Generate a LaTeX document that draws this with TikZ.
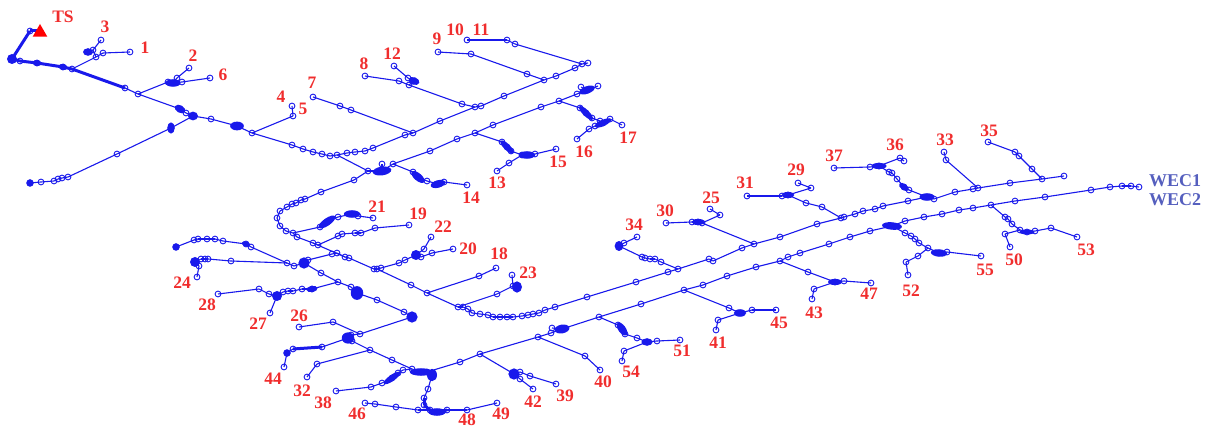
\documentclass[tikz,border=0pt]{standalone}
\usepackage{fontspec}
\setmainfont{Liberation Serif}
\usetikzlibrary{shapes.geometric, positioning}
\definecolor{busblue}{RGB}{25, 25, 235}
\definecolor{labred}{RGB}{240, 45, 45}
\definecolor{wecblue}{RGB}{85, 95, 190}
\tikzset{
  bus/.style={
    circle, draw=busblue, line width=0.9pt,
    inner sep=0pt, minimum size=5.8pt
  },
  hub/.style={
    ellipse, fill=busblue, inner sep=0pt, scale=1.25
  },
  source/.style={
    regular polygon, regular polygon sides=3, fill=red,
    inner sep=0pt, minimum size=17pt
  },
  wire/.style={draw=busblue, line width=1.1pt},
  trunk/.style={draw=busblue, line width=3pt},
  lab/.style={
    text=labred, inner sep=0pt,
    font=\fontsize{17.5}{18}\selectfont\bfseries
  },
  wec/.style={
    text=wecblue, inner sep=0pt,
    font=\fontsize{18}{19}\selectfont\bfseries
  },
}
\newcommand{\feeder}[4][wire]{%
  \foreach \x/\y [count=\i, remember=\i as \p (initially 0)] in {#4} {
    \node[bus] (#2-\i) at (\x,\y) {};
    \ifnum\i=1
      \draw[#1] (#3.center) -- (#2-\i.center);
    \else
      \draw[#1] (#2-\p.center) -- (#2-\i.center);
    \fi
  }
}
\begin{document}
\begin{tikzpicture}[x=1pt, y=-1pt]
  \useasboundingbox (0,0) rectangle (1212,427);
  \coordinate (tsfoot) at (38,31);
  \feeder[trunk]{tr}{tsfoot}{30/31,12/59,20/61,37/63,63/67,72/69,125/88}
  \feeder{mn}{tr-7}{138/94,180/109,186/113,193/116,211/119,237/126,252/133,292/145,303/149,313/152,322/154,330/156,337/155}
  \feeder{ua}{mn-13}{347/153,355/152,365/151,373/148,405/135,413/133,440/121,475/107,481/106,504/96,544/80,556/76,575/68,582/64,588/63}
  \feeder{ub}{mn-13}{368/171,382/171,393/164,430/151,457/139,475/133,493/125,541/107,559/101,577/94,587/90,598/86}
  \feeder{uc}{ub-11}{581/87}
  \feeder{ud}{ub-2}{382/164}
  \feeder{lo}{ub-1}{354/180,321/192,305/199,301/200,296/203,292/204,287/207,280/211,277/218,280/226,286/231,293/233,297/237,313/243,345/257,349/258,374/269,377/269,411/285,427/293,458/307}
  \feeder{lp}{lo-21}{463/307,468/309,472/313,480/314,488/315,493/317,500/317,507/317,513/317,522/316,528/315,533/314,539/313,545/310,555/307,587/297,636/282,668/272,678/269,709/259,713/261,742/248,754/244}
  \feeder{lq}{lp-23}{780/237,817/224,841/218,844/217,855/214,863/211,875/209,883/206,908/201,927/197,934/199,955/192,973/189,978/188,1010/183,1042/179,1064/176}
  \feeder{br3}{tr-6}{96/57,93/50,101/40}
  \feeder{br3a}{br3-2}{88/52}
  \feeder{br1}{br3-1}{103/53,130/52}
  \feeder{br6}{mn-1}{168/82,173/83,182/82,210/78}
  \feeder{br2}{br6-2}{177/78,189/68}
  \feeder{far}{mn-4}{171/128,117/154,68/177,62/178,58/179,54/181,41/182,30/183}
  \feeder{br5}{mn-7}{293/116,292/106}
  \feeder{br7}{ua-6}{351/110,340/106,313/97}
  \feeder{br8}{ua-8}{462/104,409/85,399/81,365/76}
  \feeder{br12}{br8-2}{414/81,408/78,394/66}
  \feeder{br9}{ua-11}{527/74,471/54,438/52}
  \feeder{br11}{ua-14}{515/44,507/40,467/40}
  \feeder{br15}{ub-6}{502/142,507/147,511/151,522/155,527/155,535/154,556/149}
  \feeder{br13}{br15-4}{509/163,497/171}
  \feeder{br17}{ub-9}{580/108,586/113,592/118,600/121,603/123,610/119,622/125}
  \feeder{br16}{br17-4}{595/126,589/129,577/139}
  \feeder{br14}{ub-3}{413/172,418/177,427/181,438/184,444/182,467/185}
  \feeder{br21}{lo-12}{320/227,327/222,338/217,352/214,358/216,373/218}
  \feeder{br19}{lo-14}{318/245,338/236,342/234,355/233,361/233,375/228,409/225}
  \feeder{br20}{lo-18}{381/268,399/263,405/260,416/255,421/257,432/253,453/249}
  \feeder{br22}{br20-4}{424/249,431/237}
  \feeder{br18}{lo-20}{479/276,496/268}
  \feeder{br23}{lo-21}{497/294,513/286,517/287}
  \feeder{br23a}{br23-2}{512/275}
  \feeder{lh}{lo-15}{337/253,332/254,308/260,304/263}
  \feeder{lw}{lh-4}{294/266,287/263,251/247,246/244,223/241,215/239,207/239,198/239,194/240,176/247}
  \feeder{br24}{lw-2}{231/261,208/259,205/259,201/259,195/262,199/266,197/277}
  \feeder{ls}{lh-4}{321/273,338/282,351/287,357/293,377/300,404/312,412/317}
  \feeder{br28}{ls-2}{312/289,302/289,293/291,288/291,283/292,277/296,269/294,259/289,218/294}
  \feeder{br27}{br28-6}{270/313}
  \feeder{lt}{ls-7}{360/334,351/335,348/338}
  \feeder{br26}{lt-1}{333/322,299/327}
  \feeder{br44}{lt-3}{322/347}
  \feeder[trunk]{br44a}{br44-1}{293/349}
  \feeder{br44b}{br44a-1}{287/353,284/367}
  \feeder{lv}{lt-3}{352/341,370/350,392/360,412/369,421/372,427/372}
  \feeder{br32}{lv-2}{317/364,307/377}
  \feeder{br38}{lv-4}{403/370,398/373,392/378,382/383,371/387,336/391}
  \feeder{ld}{lv-6}{432/375,428/389,424/398}
  \feeder[trunk]{le}{ld-3}{424/405,430/410,437/412,447/410}
  \feeder{br49}{le-4}{467/410,497/403}
  \feeder{br46}{le-2}{418/410,396/407,375/404,365/403}
  \feeder{mw}{lv-6}{460/362,480/354,538/337,551/333,562/329,599/317,641/304,684/290,703/285,727/276,756/267,780/261,788/257,800/253,829/244,850/237,870/231,892/226,905/221,924/217,942/214,959/210,973/208,991/205,1015/201,1045/197,1091/190,1110/187,1122/186,1131/186,1139/187}
  \feeder{mx}{mw-5}{552/328}
  \feeder{br39}{mw-2}{514/374,520/372,530/376,556/384}
  \feeder{br42}{br39-1}{520/379,533/389}
  \feeder{br40}{mw-3}{585/356,600/370}
  \feeder{br51}{mw-6}{618/325,622/329,625/334,637/338,647/342,657/341,680/340}
  \feeder{br54}{br51-5}{624/351,622/361}
  \feeder{br45}{mw-8}{729/308,740/313,752/310,776/310}
  \feeder{br41}{br45-2}{718/320,716/330}
  \feeder{br47}{mw-12}{808/272,835/282,844/281,871/283}
  \feeder{br43}{br47-2}{814/289,812/299}
  \feeder{br55}{mw-18}{905/233,911/236,915/239,919/243,928/248,939/253,947/252,981/256}
  \feeder{br52}{br55-5}{918/256,906/262,908/275}
  \feeder{br53}{mw-24}{1005/217,1008/219,1012/224,1020/230,1027/232,1035/231,1051/228,1077/237}
  \feeder{br50}{br53-4}{1005/234,1010/247}
  \feeder{br34}{lp-19}{661/262,655/259,650/259,645/258,642/257,619/246,624/243,637/237}
  \feeder{br30}{lp-23}{702/223,698/222,692/222,666/223}
  \feeder{br25}{br30-1}{720/215,710/209}
  \feeder{br31}{lq-3}{822/207,806/203,788/195,782/196,747/196}
  \feeder{br29}{br31-3}{811/188,798/183}
  \feeder{br37}{lq-10}{909/190,904/187,897/179,892/173,889/172,879/166,870/167,834/168}
  \feeder{br36}{br37-6}{900/158,904/161}
  \feeder{br33}{lq-14}{946/160,944/152}
  \feeder{br35}{lq-16}{1032/169,1019/156,1015/152,988/142}
  \foreach \busn/\w/\h/\r [count=\i] in {
    tr-2/8/8/0, tr-4/7/5/-5, tr-5/7/5/-10, mn-2/9/6/-30, mn-4/8/7/0, mn-6/11/7/0,
    ub-2/15/7/8, ub-11/13/6/20, br3a-1/8/6/0, br6-2/12/6/0, br12-1/9/6/-20,
    far-1/6/9/0, far-8/6/6/0, br15-2/14/5/-45, br15-5/13/6/0, br17-2/15/5/-45,
    br17-5/14/5/25, br14-2/13/6/-40, br14-4/12/6/15, br21-2/16/6/35, br21-4/13/6/0,
    br20-4/8/8/0, br23-3/8/9/0, lh-4/9/9/0, lw-4/7/4/-20, lw-10/6/6/0, br24-5/8/8/0,
    ls-4/10/11/0, ls-7/9/9/0, br28-1/9/5/10, br28-6/8/8/0, lt-3/10/9/0,
    br44b-1/6/6/0, lv-5/18/6/0, ld-1/8/10/0, br38-3/16/5/35, le-3/14/6/0,
    mw-5/12/7/10, mw-18/16/6/-5, br39-1/9/9/0, br51-2/12/6/-55, br51-5/9/6/0,
    br45-2/10/6/0, br47-2/11/5/0, br55-6/13/6/-5, br53-5/12/4/0, br34-6/7/8/0,
    br30-2/10/5/0, br31-3/10/5/0, br37-2/9/5/-35, br37-6/12/5/0, lq-10/12/6/0
  } {
    \node[hub, minimum width=\w pt, minimum height=\h pt, rotate=\r] (hub\i) at (\busn) {};
  }
  \node[source] (ts) at (40,32.5) {};
  \foreach \txt/\x/\y in {
    TS/63/17, 1/145/48, 2/193/56, 3/105/27, 4/281/97, 5/303/109, 6/223/75, 7/312/83,
    8/364/64, 9/437/39, 10/455/30, 11/481/30, 12/392/54, 13/497/183, 14/471/198,
    15/558/162, 16/584/152, 17/628/138, 18/499/254, 19/418/214, 20/468/249, 21/377/207,
    22/443/227, 23/528/273, 24/182/283, 25/711/198, 26/299/316, 27/258/324, 28/207/305,
    29/796/170, 30/665/211, 31/745/183, 32/302/391, 33/945/140, 34/634/225, 35/989/131,
    36/895/145, 37/834/156, 38/323/403, 39/565/396, 40/603/382, 41/718/343, 42/533/402,
    43/814/313, 44/273/379, 45/779/323, 46/357/414, 47/869/294, 48/467/419.5, 49/501/414,
    50/1014/260, 51/682/351, 52/911/291, 53/1086/250, 54/631/372, 55/985/270
  } {
    \node[lab] (lab\txt) at (\x,\y) {\txt};
  }
  \node[wec] (wec1) at (1175,181) {WEC1};
  \node[wec, below=6pt of wec1] (wec2) {WEC2};
\end{tikzpicture}
\end{document}
